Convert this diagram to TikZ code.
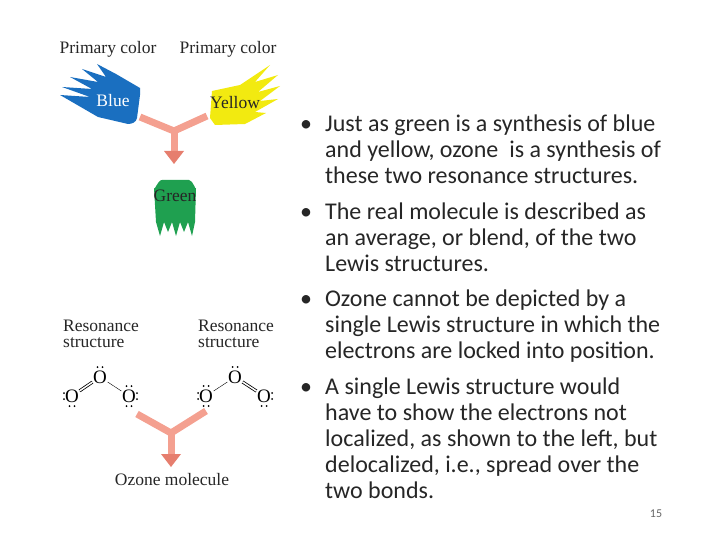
\documentclass[tikz,border=0pt]{standalone}
\usepackage{fontspec}
\setmainfont{Liberation Serif}
\newfontfamily\bodyfont{Carlito}
\definecolor{arrowc}{HTML}{F4A090}
\definecolor{arrowd}{HTML}{E07060}
\definecolor{blueb}{HTML}{1A6FC0}
\definecolor{yellowb}{HTML}{F2EA10}
\definecolor{greenb}{HTML}{1FA050}
\begin{document}
\begin{tikzpicture}[x=1pt,y=-1pt,
  lbl/.style={font=\fontsize{17.5}{19}\selectfont, text=black!85, inner sep=0},
  bul/.style={font=\bodyfont\fontsize{24}{26}\selectfont, anchor=base west, inner sep=0, text=black!85},
  O/.style={font=\fontsize{19}{19}\selectfont, inner sep=0.5},
  dot/.style={fill=black, circle, inner sep=0, minimum size=2},
  fat/.style={line width=7, arrowc}]
\useasboundingbox (0,0) rectangle (720,540);
% colours
\fill[blueb] (140,95)--(137,118) to[out=-100,in=0] (128,124)--(98,117)--(60,95)--(90,97)--(62,87)--(92,89)--(70,77)--(98,82)--(82,69)--(106,77)--(97,64)--(116,74)--(140,88)--cycle;
\fill[yellowb] (212,91)--(240,85)--(270,65)--(255,82)--(278,75)--(258,92)--(280,86)--(260,101)--(278,99)--(255,112)--(266,113)--(245,124)--(215,125)--(210,118)--cycle;
\fill[greenb] (154,188) to[out=-90,in=180] (162,180)--(189,180) to[out=0,in=-90] (196,188)--(195,222)--(192,236)--(188,222)--(184,232)--(180,222)--(176,236)--(172,222)--(168,232)--(164,222)--(160,236)--(156,222)--cycle;
\node[lbl] (p1) at (108,49) {Primary color};
\node[lbl] (p2) at (228,49) {Primary color};
\node[lbl,text=white] (bl) at (113,101) {Blue};
\node[lbl] (ye) at (235,103) {Yellow};
\node[lbl] (gr) at (175,196) {Green};
% arrow 1
\coordinate (j1) at (174,131);
\draw[fat,line join=miter] (140,117)--(j1)--(207,116);
\draw[fat] (j1)--(174,152);
\fill[arrowd!70!arrowc] (164,151)--(184,151)--(174,164)--cycle;
% resonance
\node[lbl,align=left,anchor=north west] (r1) at (63,320) {Resonance\\[-3pt]structure};
\node[lbl,align=left,anchor=north west] (r2) at (198,320) {Resonance\\[-3pt]structure};
% left molecule
\node[O] (a1) at (72,396) {O};
\node[O] (a2) at (100,377) {O};
\node[O] (a3) at (129,396) {O};
\draw[thick,double,double distance=1.5pt] (a1)--(a2);
\draw (a2)--(a3);
% right molecule
\node[O] (b1) at (206,396) {O};
\node[O] (b2) at (235,377) {O};
\node[O] (b3) at (264,396) {O};
\draw (b1)--(b2);
\draw[thick,double,double distance=1.5pt] (b2)--(b3);
% lone pairs
\foreach \n in {a2,b2,a3,b1}{\node[dot] at ([xshift=-2.5,yshift=10]\n.center){};\node[dot] at ([xshift=2.5,yshift=10]\n.center){};}
\foreach \n in {a1,b3,a3,b1}{
 \node[dot] at ([xshift=-2.5,yshift=-10]\n.center){};\node[dot] at ([xshift=2.5,yshift=-10]\n.center){};}
\node[dot] at ([xshift=-8,yshift=-3]a1.center){};\node[dot] at ([xshift=-8,yshift=3]a1.center){};
\node[dot] at ([xshift=8,yshift=-3]b3.center){};\node[dot] at ([xshift=8,yshift=3]b3.center){};
\node[dot] at ([xshift=8,yshift=-3]a3.center){};\node[dot] at ([xshift=8,yshift=3]a3.center){};
\node[dot] at ([xshift=-8,yshift=-3]b1.center){};\node[dot] at ([xshift=-8,yshift=3]b1.center){};
% arrow 2
\coordinate (j2) at (171,433);
\draw[fat,line join=miter] (137,414)--(j2)--(206,411);
\draw[fat] (j2)--(171,455);
\fill[arrowd!70!arrowc] (161,454)--(181,454)--(171,467)--cycle;
\node[lbl] (oz) at (172,480) {Ozone molecule};
% bullets
\foreach \y in {132,220,306,394}{\node[bul] at (300,\y) {•};}
\node[bul] (t1) at (325,132) {Just as green is a synthesis of blue};
\node[bul] at (325,158) {and yellow, ozone \ is a synthesis of};
\node[bul] at (325,184) {these two resonance structures.};
\node[bul] (t2) at (325,220) {The real molecule is described as};
\node[bul] at (325,245) {an average, or blend, of the two};
\node[bul] at (325,271) {Lewis structures.};
\node[bul] (t3) at (325,306) {Ozone cannot be depicted by a};
\node[bul] at (325,332) {single Lewis structure in which the};
\node[bul] at (325,358) {electrons are locked into position.};
\node[bul] (t4) at (325,394) {A single Lewis structure would};
\node[bul] at (325,420) {have to show the electrons not};
\node[bul] at (325,446) {localized, as shown to the left, but};
\node[bul] at (325,472) {delocalized, i.e., spread over the};
\node[bul] at (325,498) {two bonds.};
\node[font=\bodyfont\fontsize{12}{12}\selectfont, text=black!60] (pg) at (656,514) {15};
\end{tikzpicture}
\end{document}
